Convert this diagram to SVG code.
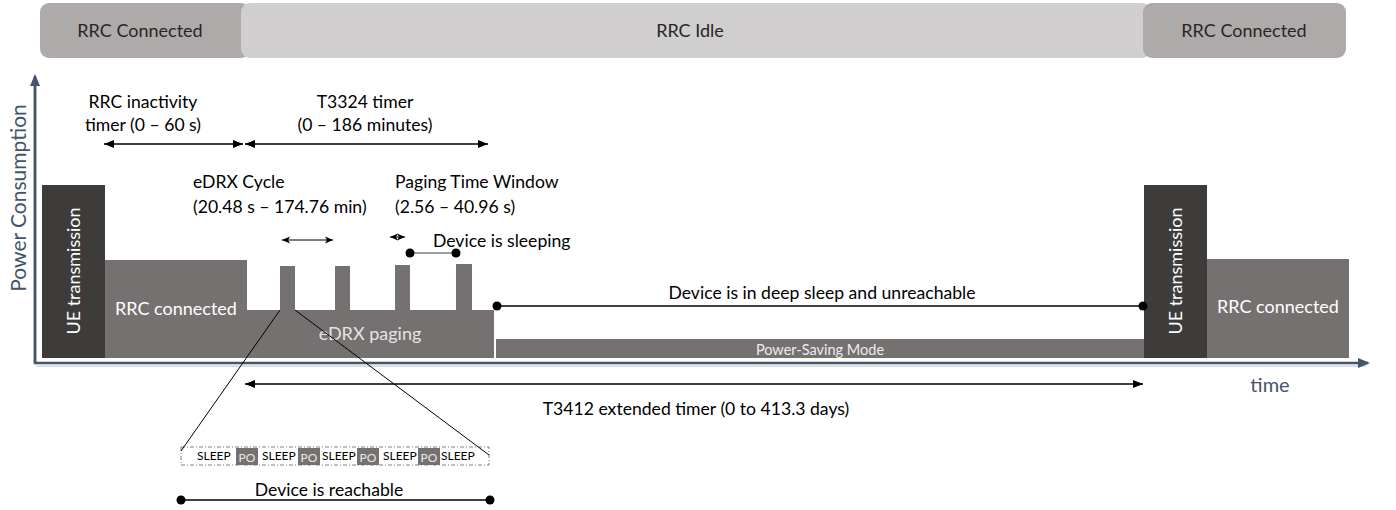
<svg xmlns="http://www.w3.org/2000/svg" width="1396" height="510" viewBox="0 0 1396 510">
<style>
  text { font-family: Lato, "Liberation Sans", sans-serif; }
  .lbl { font-size: 17.6px; fill: #000; }
  .bar { font-size: 18px; fill: #262626; text-anchor: middle; }
  .wt { font-size: 18px; fill: #ffffff; }
  .ax { stroke: #44546a; stroke-width: 2.5; fill: none; }
  .blk { stroke: #000; stroke-width: 1.3; fill: none; }
  .thin { stroke: #000; stroke-width: 1; fill: none; }
  .dot { fill: #000; }
  .slp { font-size: 12px; fill: #000; }
  .po { font-size: 12px; fill: #e8e8e8; text-anchor: middle; }
</style>
<defs>
  <marker id="ah" viewBox="0 0 10 8" refX="10" refY="4" markerWidth="10" markerHeight="8" markerUnits="userSpaceOnUse" orient="auto-start-reverse">
    <path d="M0,0 L10,4 L0,8 z" fill="#000"/>
  </marker>
  <marker id="ahs" viewBox="0 0 8 8" refX="8" refY="4" markerWidth="8" markerHeight="8" markerUnits="userSpaceOnUse" orient="auto-start-reverse">
    <path d="M0,0.5 L8,4 L0,7.5 L2,4 z" fill="#000"/>
  </marker>
  <marker id="axh" viewBox="0 0 12 10" refX="10" refY="5" markerWidth="12" markerHeight="10" markerUnits="userSpaceOnUse" orient="auto">
    <path d="M0,0 L12,5 L0,10 z" fill="#44546a"/>
  </marker>
</defs>
<rect width="1396" height="510" fill="#ffffff"/>

<!-- State bars -->
<g id="bar-connected-left">
  <rect x="40" y="3" width="210" height="55" rx="9" fill="#aeaaaa"/>
  <text class="bar" x="140" y="37">RRC Connected</text>
</g>
<g id="bar-idle">
  <rect x="241" y="3" width="910" height="55" rx="9" fill="#d0cece"/>
  <text class="bar" x="690" y="37">RRC Idle</text>
</g>
<g id="bar-connected-right">
  <rect x="1143" y="3" width="203" height="55" rx="9" fill="#aeaaaa"/>
  <text class="bar" x="1244" y="37">RRC Connected</text>
</g>

<!-- Axes -->
<g id="axes">
  <line x1="36" y1="366" x2="1366" y2="366" stroke="#b4bfcd" stroke-width="1.2"/>
  <path class="ax" d="M35,80 L35,363 L1368,363" marker-end="url(#axh)"/>
  <line x1="35" y1="363" x2="35" y2="76" class="ax" marker-end="url(#axh)"/>
  <text x="26" y="198" transform="rotate(-90 26 198)" text-anchor="middle" font-size="21" fill="#44546a">Power Consumption</text>
  <text x="1270" y="392" text-anchor="middle" font-size="20" fill="#44546a">time</text>
</g>

<!-- Power profile blocks -->
<g id="ue-tx-left">
  <rect x="42" y="185" width="63" height="173" fill="#3e3b3b"/>
  <text class="wt" x="80" y="271" transform="rotate(-90 80 271)" text-anchor="middle">UE transmission</text>
</g>
<g id="rrc-connected-left">
  <rect x="105" y="260" width="142" height="98" fill="#767171"/>
  <text class="wt" x="115" y="315">RRC connected</text>
</g>
<g id="edrx-paging">
  <path d="M247,310 L280,310 L280,266 L295,266 L295,310 L335,310 L335,266 L350,266 L350,310 L395,310 L395,265 L410,265 L410,310 L456,310 L456,264 L472,264 L472,310 L494,310 L494,358 L247,358 z" fill="#767171"/>
  <text x="370" y="340" text-anchor="middle" font-size="18" fill="#e4e4e4">eDRX paging</text>
</g>
<g id="psm">
  <rect x="496" y="339" width="649" height="19" fill="#767171"/>
  <text x="820" y="354.5" text-anchor="middle" font-size="14.5" fill="#ececec">Power-Saving Mode</text>
</g>
<g id="ue-tx-right">
  <rect x="1144" y="185" width="63" height="173" fill="#3e3b3b"/>
  <text class="wt" x="1182" y="271" transform="rotate(-90 1182 271)" text-anchor="middle">UE transmission</text>
</g>
<g id="rrc-connected-right">
  <rect x="1207" y="259" width="142" height="99" fill="#767171"/>
  <text class="wt" x="1217" y="313">RRC connected</text>
</g>

<!-- Labels -->
<g id="label-rrc-inactivity">
  <text class="lbl" x="143" y="108" text-anchor="middle">RRC inactivity</text>
  <text class="lbl" x="143" y="131" text-anchor="middle">timer (0 – 60 s)</text>
</g>
<g id="label-t3324">
  <text class="lbl" x="365" y="108" text-anchor="middle">T3324 timer</text>
  <text class="lbl" x="365" y="131" text-anchor="middle">(0 – 186 minutes)</text>
</g>
<g id="label-edrx-cycle">
  <text class="lbl" x="193" y="188">eDRX Cycle</text>
  <text class="lbl" x="193" y="213">(20.48 s – 174.76 min)</text>
</g>
<g id="label-ptw">
  <text class="lbl" x="395" y="188">Paging Time Window</text>
  <text class="lbl" x="395" y="213">(2.56 – 40.96 s)</text>
</g>
<g id="label-sleeping">
  <text class="lbl" x="433" y="247">Device is sleeping</text>
</g>
<g id="label-deep-sleep">
  <text class="lbl" x="822" y="299" text-anchor="middle">Device is in deep sleep and unreachable</text>
</g>
<g id="label-t3412">
  <text class="lbl" x="696" y="415" text-anchor="middle">T3412 extended timer (0 to 413.3 days)</text>
</g>

<!-- Zoomed sleep strip -->
<g id="sleep-strip">
  <rect x="181" y="447" width="308" height="18" fill="#fff" stroke="#7f7f7f" stroke-width="1" stroke-dasharray="4 2 1 2"/>
  <rect x="236" y="448" width="22" height="17" fill="#767171"/>
  <rect x="298" y="448" width="22" height="17" fill="#767171"/>
  <rect x="357" y="448" width="22" height="17" fill="#767171"/>
  <rect x="418" y="448" width="22" height="17" fill="#767171"/>
  <text class="slp" x="197" y="460">SLEEP</text>
  <text class="slp" x="262" y="460">SLEEP</text>
  <text class="slp" x="322" y="460">SLEEP</text>
  <text class="slp" x="383" y="460">SLEEP</text>
  <text class="slp" x="441" y="460">SLEEP</text>
  <text class="po" x="247" y="462">PO</text>
  <text class="po" x="309" y="462">PO</text>
  <text class="po" x="368" y="462">PO</text>
  <text class="po" x="429" y="462">PO</text>
</g>
<g id="label-reachable">
  <text class="lbl" x="329" y="496" text-anchor="middle">Device is reachable</text>
</g>

<!-- Connectors -->
<g id="connectors">
  <line class="blk" x1="104" y1="144" x2="243" y2="144" marker-start="url(#ah)" marker-end="url(#ah)"/>
  <line class="blk" x1="245" y1="144" x2="488" y2="144" marker-start="url(#ah)" marker-end="url(#ah)"/>
  <line class="thin" x1="282" y1="240" x2="333" y2="240" marker-start="url(#ahs)" marker-end="url(#ahs)"/>
  <line class="thin" x1="390" y1="237" x2="405" y2="237" marker-start="url(#ahs)" marker-end="url(#ahs)"/>
  <line x1="410" y1="253" x2="456" y2="253" stroke="#7f7f7f" stroke-width="1.5"/>
  <circle class="dot" cx="410" cy="253" r="4.5"/>
  <circle class="dot" cx="456" cy="253" r="4.5"/>
  <line class="blk" x1="497" y1="306" x2="1143" y2="306"/>
  <circle class="dot" cx="497" cy="306" r="4.5"/>
  <circle class="dot" cx="1143" cy="306" r="4.5"/>
  <line class="blk" x1="245" y1="384" x2="1143" y2="384" marker-start="url(#ah)" marker-end="url(#ah)"/>
  <line class="thin" x1="280" y1="310" x2="181" y2="451"/>
  <line class="thin" x1="295" y1="310" x2="489" y2="455"/>
  <line class="blk" x1="181" y1="500" x2="490" y2="500"/>
  <circle class="dot" cx="181" cy="500" r="4.5"/>
  <circle class="dot" cx="490" cy="500" r="4.5"/>
</g>
</svg>
